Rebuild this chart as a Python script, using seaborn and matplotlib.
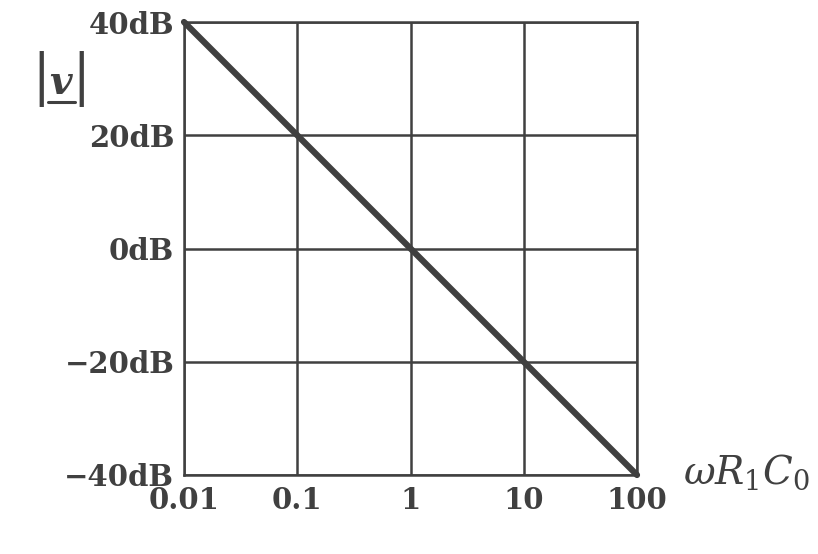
import matplotlib
matplotlib.use("Agg")
import matplotlib.pyplot as plt
import seaborn as sns
import pandas as pd
from matplotlib.lines import Line2D

# data
freq = [0.01, 0.1, 1, 10, 100]
gain_db = [40, 20, 0, -20, -40]
x_ticks = [0.01, 0.1, 1, 10, 100]
x_labels = ["0.01", "0.1", "1", "10", "100"]
y_ticks = [-40, -20, 0, 20, 40]
y_labels = ["\u221240dB", "\u221220dB", "0dB", "20dB", "40dB"]

col = "#404040"
sns.set_style("white")
plt.rcParams["font.family"] = ["DejaVu Serif"]
plt.rcParams["mathtext.fontset"] = "dejavuserif"

df = pd.DataFrame({"freq": freq, "gain": gain_db})

fig = plt.figure(figsize=(8.18, 5.54), dpi=100)
ax = fig.add_axes([184 / 818, 1 - 475 / 554, 453 / 818, 453 / 554])

sns.lineplot(data=df, x="freq", y="gain", ax=ax, color=col, lw=4.5,
             solid_capstyle="round", zorder=5, clip_on=False)
ax.set_xscale("log")
ax.set_xlim(0.01, 100)
ax.set_ylim(-40, 40)

ax.set_xticks(x_ticks)
ax.set_xticklabels(x_labels)
ax.set_yticks(y_ticks)
ax.set_yticklabels(y_labels)
ax.minorticks_off()
ax.tick_params(length=0, labelsize=21, colors=col)
ax.tick_params(axis="x", pad=8)
ax.tick_params(axis="y", pad=7)
for t in ax.get_xticklabels() + ax.get_yticklabels():
    t.set_fontweight("bold")

ax.grid(True, color=col, lw=1.8)
for s in ax.spines.values():
    s.set_color(col)
    s.set_linewidth(1.8)
ax.set_xlabel("")
ax.set_ylabel("")

# y-axis label |v| with underlined v
bar_font = dict(fontsize=44, color=col, fontweight="bold", family="Liberation Serif",
                va="center")
fig.text(41 / 818, 1 - 79 / 554, "|", ha="center", **bar_font)
fig.text(61 / 818, 1 - 94 / 554, "v", fontsize=28, color=col, fontstyle="italic",
         fontweight="bold", ha="center", va="baseline")
fig.add_artist(Line2D([48 / 818, 75 / 818], [1 - 102 / 554, 1 - 102 / 554],
                      color=col, lw=2.2, transform=fig.transFigure))
fig.text(81 / 818, 1 - 79 / 554, "|", ha="center", **bar_font)

# x-axis label
fig.text(683 / 818, 1 - 484 / 554, r"$\omega R_1 C_0$", fontsize=28, color=col,
         ha="left", va="baseline")

fig.savefig("out.png", dpi=100)
